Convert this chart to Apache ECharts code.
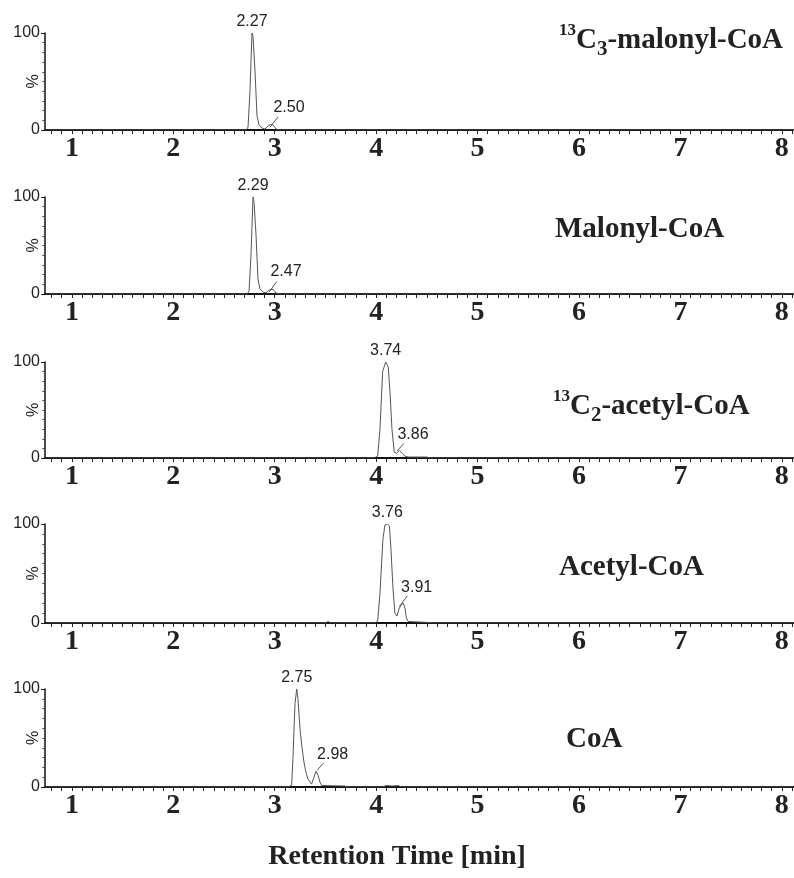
<!DOCTYPE html>
<html>
<head>
<meta charset="utf-8">
<script src="https://cdn.jsdelivr.net/npm/echarts@6/dist/echarts.min.js"></script>
<style>
  html, body { margin: 0; padding: 0; background: #fff; }
  #chart { width: 794px; height: 878px; }
</style>
</head>
<body>
<div id="chart"></div>
<script>
// compound names (rich text for iso labels)
const compoundNames = [
  '{sup|13}{main|C}{sub|3}{main|-malonyl-CoA}',
  '{main|Malonyl-CoA}',
  '{sup|13}{main|C}{sub|2}{main|-acetyl-CoA}',
  '{main|Acetyl-CoA}',
  '{main|CoA}'
];
const xTickLabels = [1, 2, 3, 4, 5, 6, 7, 8];

// traces: [time, % intensity]
const traceMalonyl13 = [
  [0.74, 0], [2.717, 0], [2.737, 3], [2.756, 40], [2.776, 100], [2.786, 96], [2.806, 60],
  [2.825, 15], [2.845, 5], [2.875, 2], [2.904, 1], [2.934, 4], [2.963, 6], [2.983, 5],
  [3.013, 1], [3.052, 0], [8.12, 0]
];
const traceMalonyl = [
  [0.74, 0], [2.727, 0], [2.747, 3], [2.766, 40], [2.786, 100], [2.796, 95], [2.816, 60],
  [2.835, 15], [2.855, 5], [2.885, 2], [2.914, 1], [2.944, 4], [2.963, 6], [2.983, 5],
  [3.013, 1], [3.052, 0], [8.12, 0]
];
const traceAcetyl13 = [
  [0.74, 0], [3.979, 0], [4.015, 2], [4.038, 30], [4.064, 90], [4.094, 100], [4.119, 95],
  [4.136, 70], [4.156, 30], [4.179, 6], [4.200, 5], [4.228, 8], [4.254, 5], [4.284, 2],
  [4.314, 1], [4.501, 1], [4.530, 0], [8.12, 0]
];
const traceAcetyl = [
  [0.74, 0], [3.446, 0], [3.496, 0], [3.528, 1.5], [3.555, 0], [3.988, 0], [4.015, 2],
  [4.038, 30], [4.067, 85], [4.087, 99], [4.110, 100], [4.131, 98], [4.146, 75], [4.166, 35],
  [4.185, 10], [4.205, 7], [4.225, 14], [4.245, 18], [4.267, 20], [4.284, 15], [4.299, 5],
  [4.317, 1.5], [4.530, 0.5], [4.560, 0], [8.12, 0]
];
const traceCoA = [
  [0.74, 0], [3.131, 0], [3.167, 2], [3.180, 30], [3.200, 85], [3.217, 100], [3.229, 90],
  [3.249, 60], [3.269, 40], [3.289, 25], [3.308, 15], [3.328, 8], [3.364, 3], [3.387, 10],
  [3.407, 16], [3.427, 12], [3.446, 5], [3.463, 1.5], [3.693, 1], [3.722, 0], [4.067, 0],
  [4.097, 1.5], [4.156, 1], [4.215, 1.5], [4.252, 0], [8.12, 0]
];
const traces = [traceMalonyl13, traceMalonyl, traceAcetyl13, traceAcetyl, traceCoA];

// main peak label: [text, apex time]
const mainPeaks = [['2.27', 2.776], ['2.29', 2.786], ['3.74', 4.094], ['3.76', 4.110], ['2.75', 3.217]];
// minor peak label: [text, time, %]
const minorPeaks = [['2.50', 3.141, 22.7], ['2.47', 3.111, 22.7], ['3.86', 4.363, 24], ['3.91', 4.399, 36], ['2.98', 3.571, 32.7]];
// leader lines: [t1, y1, t2, y2]
const leaders = [
  [2.954, 3.1, 3.032, 13.4], [2.947, 2.4, 3.019, 12.7], [4.208, 7.6, 4.274, 15.3],
  [4.228, 16.5, 4.307, 27.3], [3.42, 17.3, 3.479, 24.2]
];

// layout
const panelTops = [33, 197, 362, 524, 689];
const panelHeights = [97, 97, 96, 99, 98];
const nameLeft = [559, 555, 553, 559, 566];
const nameY = [41, 230, 407, 568, 740];

const xMin = 0.735, xMax = 8.12;
const minorTickValues = [];
for (let i = 8; i <= 81; i++) minorTickValues.push(i / 10);

const serif = '"Liberation Serif", "Times New Roman", serif';
const sans = '"Liberation Sans", Arial, sans-serif';

const grid = [], xAxis = [], yAxis = [], series = [], graphic = [];
traces.forEach((tr, i) => {
  grid.push({ left: 45, right: 0, top: panelTops[i], height: panelHeights[i], outerBoundsMode: 'none' });
  xAxis.push({
    type: 'value', gridIndex: i, min: xMin, max: xMax,
    axisLine: { show: true, onZero: false, lineStyle: { color: '#111', width: 2 } },
    axisTick: { show: true, customValues: minorTickValues, length: 4, lineStyle: { color: '#222', width: 1 } },
    axisLabel: {
      customValues: xTickLabels, margin: 5, color: '#222',
      fontSize: 28, fontWeight: 'bold', fontFamily: serif
    },
    splitLine: { show: false }
  });
  yAxis.push({
    type: 'value', gridIndex: i, min: 0, max: 100, interval: 100,
    name: '%', nameLocation: 'middle', nameRotate: 90, nameGap: 3, nameMoveOverlap: false,
    nameTextStyle: { fontSize: 16, color: '#222', fontFamily: sans },
    axisLine: { show: true, lineStyle: { color: '#111', width: 1.5 } },
    axisTick: { show: true, length: 4, lineStyle: { color: '#222' } },
    minorTick: { show: true, splitNumber: 10, length: 2.5, lineStyle: { color: '#444' } },
    axisLabel: { margin: 5, color: '#222', fontSize: 16, fontFamily: sans },
    splitLine: { show: false }
  });
  const mp = mainPeaks[i], mn = minorPeaks[i], ld = leaders[i];
  series.push({
    type: 'line', xAxisIndex: i, yAxisIndex: i, data: tr,
    showSymbol: false, silent: true, animation: false,
    lineStyle: { color: '#555', width: 1 },
    markPoint: {
      symbol: 'circle', symbolSize: 0.1, silent: true, animation: false,
      itemStyle: { color: 'rgba(0,0,0,0)' },
      data: [
        { coord: [mp[1], 100], label: { show: true, formatter: mp[0], position: 'top', distance: 3, color: '#222', fontSize: 16, fontFamily: sans } },
        { coord: [mn[1], mn[2]], label: { show: true, formatter: mn[0], position: 'inside', color: '#222', fontSize: 16, fontFamily: sans } }
      ]
    },
    markLine: {
      symbol: ['none', 'none'], silent: true, animation: false,
      label: { show: false },
      lineStyle: { color: '#555', width: 1, type: 'solid' },
      data: [[{ coord: [ld[0], ld[1]] }, { coord: [ld[2], ld[3]] }]]
    }
  });
  graphic.push({
    type: 'text', x: nameLeft[i], y: nameY[i],
    style: {
      text: compoundNames[i], textVerticalAlign: 'middle', verticalAlign: 'middle', fill: '#222',
      rich: {
        main: { fontSize: 29, fontWeight: 'bold', fontFamily: serif, lineHeight: 38, fill: '#222', color: '#222' },
        sup: { fontSize: 17, fontWeight: 'bold', fontFamily: serif, lineHeight: 28, verticalAlign: 'top', fill: '#222', color: '#222' },
        sub: { fontSize: 21, fontWeight: 'bold', fontFamily: serif, lineHeight: 20, verticalAlign: 'bottom', fill: '#222', color: '#222' }
      }
    }
  });
});

graphic.push({
  type: 'text', x: 397, y: 857,
  style: {
    text: 'Retention Time [min]', textAlign: 'center', align: 'center',
    textVerticalAlign: 'middle', verticalAlign: 'middle',
    font: 'bold 28px ' + serif, fill: '#222'
  }
});

const chart = echarts.init(document.getElementById('chart'));
chart.setOption({
  animation: false,
  backgroundColor: '#fff',
  grid, xAxis, yAxis, series, graphic
});
</script>
</body>
</html>
